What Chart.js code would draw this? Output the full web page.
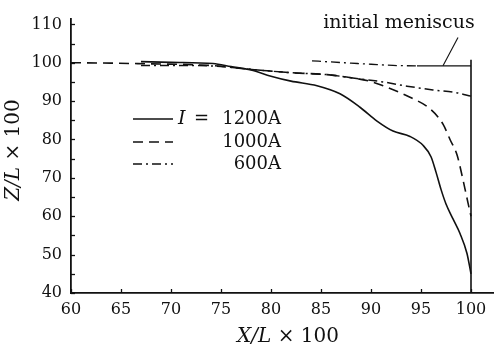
<!DOCTYPE html>
<html>
<head>
<meta charset="utf-8">
<script src="https://cdn.jsdelivr.net/npm/chart.js@4.4.1/dist/chart.umd.min.js"></script>
<style>
  html, body { margin: 0; padding: 0; background: #fff; }
  #wrap { width: 494px; height: 354px; }
</style>
</head>
<body>
<div id="wrap"><canvas id="myChart"></canvas></div>
<script>
// values (X/L*100, Z/L*100)
var x1200 = [67, 70, 74.2, 76, 78, 80, 82, 84.6, 86.9, 88.9, 90.6, 92.2, 93.9, 95.2, 96.0, 96.5, 97.0, 97.5, 98.2, 98.9, 99.6, 100]
var z1200 = [100.3, 100.1, 99.8, 99.0, 98.1, 96.5, 95.2, 94.0, 91.9, 88.4, 84.8, 82.2, 80.8, 78.5, 75.5, 71.5, 67.0, 63.2, 59.3, 55.5, 50.3, 45]

var x1000 = [60, 64, 68, 72, 75, 77, 79.6, 82, 85.6, 88, 90, 91.2, 93.9, 95.9, 97.2, 97.9, 98.6, 99.2, 99.7, 100]
var z1000 = [100, 99.9, 99.7, 99.5, 99.1, 98.5, 97.9, 97.4, 96.9, 96.1, 95.1, 94.0, 91.0, 88.0, 84.0, 80.0, 76.0, 69.5, 63.5, 60]

var x600 = [67, 72, 75, 79.6, 82, 85.6, 88, 91.2, 93.6, 96.2, 98.5, 100]
var z600 = [99.3, 99.3, 99.0, 97.9, 97.4, 96.9, 96.1, 95.0, 93.9, 92.9, 92.2, 91.3]

var xMeniscus = [84.1, 86, 88, 90, 92.2, 94.6, 100]
var zMeniscus = [100.5, 100.2, 99.9, 99.6, 99.3, 99.2, 99.2]

var xWall = [100, 100]
var zWall = [40, 100.8]

var xLeader = [98.7, 97.2]
var zLeader = [106.6, 99.2]

var xTicks = [60, 65, 70, 75, 80, 85, 90, 95, 100]
var yTicks = [40, 45, 50, 55, 60, 65, 70, 75, 80, 85, 90, 95, 100, 105, 110]

var legendLabels = ['1200A', '1000A', '600A']

function pts(xs, ys) {
    return xs.map(function (x, i) { return {x: x, y: ys[i]} })
}

var ink = '#111'
var serif = 'DejaVu Serif'

function line(data, dash, width) {
    return {
        data: data, showLine: true, pointRadius: 0, borderColor: ink,
        borderWidth: width, borderDash: dash, cubicInterpolationMode: 'monotone', fill: false
    }
}

var ds1200 = line(pts(x1200, z1200), [], 1.6)
var ds1000 = line(pts(x1000, z1000), [10, 6], 1.6)
var ds600 = line(pts(x600, z600), [9, 4, 2, 4], 1.5)
var dsMen = line(pts(xMeniscus, zMeniscus), [9, 4, 2, 4], 1.3)
dsMen.segment = {
    borderDash: function (c) { return c.p0DataIndex >= xMeniscus.length - 2 ? [] : [9, 4, 2, 4] }
}
var dsWall = line(pts(xWall, zWall), [], 1.6)
dsWall.cubicInterpolationMode = 'default'
dsWall.tension = 0
var dsLeader = line(pts(xLeader, zLeader), [], 1.1)
dsLeader.cubicInterpolationMode = 'default'
dsLeader.tension = 0

// small helper to write text with italic parts
function richText(ctx, parts, size) {
    var w = 0
    parts.forEach(function (p) {
        ctx.font = (p[1] ? 'italic ' : '') + size + 'px ' + serif
        w += ctx.measureText(p[0]).width
    })
    return w
}
function drawRich(ctx, parts, size, x, y) {
    parts.forEach(function (p) {
        ctx.font = (p[1] ? 'italic ' : '') + size + 'px ' + serif
        ctx.fillText(p[0], x, y)
        x += ctx.measureText(p[0]).width
    })
}

var extras = {
    id: 'extras',
    afterDraw: function (chart) {
        var ctx = chart.ctx
        var xs = chart.scales.x, ys = chart.scales.y
        var area = chart.chartArea
        ctx.save()
        ctx.strokeStyle = ink
        ctx.fillStyle = ink
        ctx.lineWidth = 1.3
        // inward ticks
        yTicks.forEach(function (v) {
            var py = Math.round(ys.getPixelForValue(v)) + 0.5
            ctx.beginPath(); ctx.moveTo(area.left, py); ctx.lineTo(area.left + 4, py); ctx.stroke()
        })
        xTicks.forEach(function (v) {
            var px = Math.round(xs.getPixelForValue(v)) + 0.5
            ctx.beginPath(); ctx.moveTo(px, area.bottom); ctx.lineTo(px, area.bottom - 4); ctx.stroke()
        })

        // axis titles
        ctx.textBaseline = 'middle'
        var xt = [['X/L', true], [' \u00d7 100', false]]
        var w = richText(ctx, xt, 20)
        drawRich(ctx, xt, 20, 288 - w / 2, 337)
        var yt = [['Z/L', true], [' \u00d7 100', false]]
        w = richText(ctx, yt, 20)
        ctx.save()
        ctx.translate(14, 150)
        ctx.rotate(-Math.PI / 2)
        drawRich(ctx, yt, 20, -w / 2, 0)
        ctx.restore()

        // legend
        var rows = [[ds1200, 119], [ds1000, 142], [ds600, 164]]
        rows.forEach(function (r, i) {
            ctx.save()
            ctx.lineWidth = r[0].borderWidth
            ctx.setLineDash(r[0].borderDash)
            ctx.beginPath(); ctx.moveTo(133, r[1]); ctx.lineTo(173, r[1]); ctx.stroke()
            ctx.restore()
            ctx.font = '18px ' + serif
            ctx.textAlign = 'right'
            ctx.fillText(legendLabels[i], 281, r[1])
            ctx.textAlign = 'left'
        })
        drawRich(ctx, [['I', true]], 19, 178, 119)
        drawRich(ctx, [['=', false]], 18, 194, 119)

        // annotation text
        ctx.font = '19px ' + serif
        ctx.textAlign = 'center'
        ctx.fillText('initial meniscus', xs.getPixelForValue(92.8), ys.getPixelForValue(110.4))
        ctx.restore()
    }
}

var ctx = document.getElementById('myChart')
var myChart = new Chart(ctx, {
    type: 'scatter',
    data: { datasets: [ds1200, ds1000, ds600, dsMen, dsWall, dsLeader] },
    options: {
        responsive: true,
        maintainAspectRatio: false,
        animation: false,
        layout: { padding: { top: 15, right: 0, left: 0, bottom: 0 } },
        plugins: { legend: { display: false }, tooltip: { enabled: false } },
        scales: {
            x: {
                type: 'linear', min: 60, max: 102.3,
                afterBuildTicks: function (s) { s.ticks = xTicks.map(function (v) { return {value: v} }) },
                afterFit: function (s) { s.height = 61 },
                grid: { display: false, drawTicks: false },
                border: { display: true, color: ink, width: 1.8 },
                ticks: { color: ink, padding: 7, maxRotation: 0, font: { family: serif, size: 16 } }
            },
            y: {
                type: 'linear', min: 40, max: 111.5,
                afterBuildTicks: function (s) { s.ticks = yTicks.map(function (v) { return {value: v} }) },
                afterFit: function (s) { s.width = 71 },
                grid: { display: false, drawTicks: false },
                border: { display: true, color: ink, width: 1.8 },
                ticks: {
                    color: ink, padding: 9, font: { family: serif, size: 16 },
                    callback: function (v) { return v % 10 === 0 ? v : '' }
                }
            }
        }
    },
    plugins: [extras]
})
</script>
</body>
</html>
